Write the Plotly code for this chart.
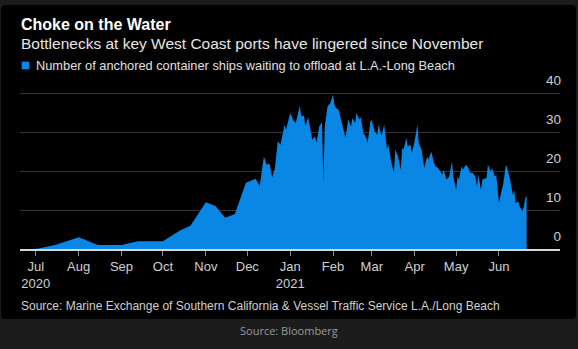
import plotly.graph_objects as go

# ---- data ----
dates = [
    "2020-07-01", "2020-07-15", "2020-08-01", "2020-08-15", "2020-09-01", "2020-09-13",
    "2020-10-01", "2020-10-13", "2020-10-21", "2020-11-01", "2020-11-08", "2020-11-15",
    "2020-11-22", "2020-11-30", "2020-12-07", "2020-12-09", "2020-12-10", "2020-12-13",
    "2020-12-15", "2020-12-17", "2020-12-19", "2020-12-21", "2020-12-23", "2020-12-25",
    "2020-12-28", "2020-12-29", "2021-01-01", "2021-01-03", "2021-01-05", "2021-01-08",
    "2021-01-09", "2021-01-11", "2021-01-12", "2021-01-14", "2021-01-16", "2021-01-17",
    "2021-01-19", "2021-01-20", "2021-01-22", "2021-01-24", "2021-01-25", "2021-01-26",
    "2021-01-28", "2021-01-30", "2021-02-01", "2021-02-02", "2021-02-03", "2021-02-05",
    "2021-02-08", "2021-02-09", "2021-02-10", "2021-02-12", "2021-02-14", "2021-02-15",
    "2021-02-17", "2021-02-18", "2021-02-20", "2021-02-21", "2021-02-23", "2021-02-25",
    "2021-02-26", "2021-02-28", "2021-03-01", "2021-03-03", "2021-03-05", "2021-03-06",
    "2021-03-08", "2021-03-10", "2021-03-12", "2021-03-13", "2021-03-15", "2021-03-17",
    "2021-03-18", "2021-03-20", "2021-03-22", "2021-03-23", "2021-03-24", "2021-03-26",
    "2021-03-27", "2021-03-29", "2021-03-30", "2021-04-01", "2021-04-03", "2021-04-04",
    "2021-04-06", "2021-04-08", "2021-04-10", "2021-04-11", "2021-04-13", "2021-04-15",
    "2021-04-16", "2021-04-18", "2021-04-19", "2021-04-21", "2021-04-22", "2021-04-24",
    "2021-04-26", "2021-04-28", "2021-04-29", "2021-05-01", "2021-05-02", "2021-05-03",
    "2021-05-05", "2021-05-06", "2021-05-08", "2021-05-10", "2021-05-11", "2021-05-13",
    "2021-05-15", "2021-05-16", "2021-05-17", "2021-05-19", "2021-05-20", "2021-05-23",
    "2021-05-24", "2021-05-26", "2021-05-27", "2021-05-29", "2021-05-30", "2021-06-01",
    "2021-06-03", "2021-06-04", "2021-06-06", "2021-06-07", "2021-06-09", "2021-06-11",
    "2021-06-12", "2021-06-13", "2021-06-15", "2021-06-16", "2021-06-18", "2021-06-19",
    "2021-06-20", "2021-06-21",
]
ships = [
    0, 1, 3, 1, 1, 2,
    2, 4.7, 6, 12, 11, 8,
    9, 17, 18, 17, 16.2, 23.7,
    21.6, 21.9, 18.4, 20.8, 27.6, 26.7,
    31.9, 30.6, 34.9, 33.2, 32.3, 36.7,
    34, 34.2, 31.4, 33.8, 29.7, 28,
    28.9, 27.2, 31.4, 32.5, 17.3, 31.4,
    36.6, 37.4, 39.6, 37, 36.2, 35.7,
    31.4, 30.2, 28.5, 33.2, 31.4, 33.6,
    32.3, 34.9, 33.2, 33.8, 29.7, 28.5,
    27.2, 32.7, 33, 30.2, 29.3, 31.9,
    28.9, 31.9, 25.5, 26.7, 22.5, 19.5,
    25.5, 23.7, 20.3, 25.9, 25.5, 28.5,
    26.3, 26.7, 24.6, 27.6, 31.9, 27.2,
    25.5, 20.8, 23.7, 22.9, 25, 22.1,
    21.2, 20.8, 20.3, 19.1, 20.3, 17.8,
    18.6, 22.5, 18.6, 15.2, 18.6, 17.8,
    21.2, 20.3, 21.6, 20.8, 19.6, 19.5,
    18.6, 16, 19.1, 15.2, 17.8, 18.2,
    21.6, 19.9, 20.8, 18.6, 19.1, 11.8,
    15.2, 16.5, 21.6, 20.8, 17.8, 13.9,
    15.2, 11.8, 12.2, 10.9, 9.6, 10.9,
    13.1, 13.5,
]
tick_dates = ["2020-07-01", "2020-08-01", "2020-09-01", "2020-10-01", "2020-11-01",
              "2020-12-01", "2021-01-01", "2021-02-01", "2021-03-01", "2021-04-01",
              "2021-05-01", "2021-06-01"]
tick_labels = ["Jul<br>2020", "Aug", "Sep", "Oct", "Nov", "Dec", "Jan<br>2021",
               "Feb", "Mar", "Apr", "May", "Jun"]
y_ticks = [0, 10, 20, 30, 40]

title = "Choke on the Water"
subtitle = "Bottlenecks at key West Coast ports have lingered since November"
legend_label = "Number of anchored container ships waiting to offload at L.A.-Long Beach"
source = "Source: Marine Exchange of Southern California &amp; Vessel Traffic Service L.A./Long Beach"
footer = "Source: Bloomberg"

# ---- layout geometry (pixels) ----
W, H = 578, 349
ML, MR, MT, MB = 20, 18, 70, 100
PW, PH = W - ML - MR, H - MT - MB
BLUE = "#0a86e4"
FONT = "Liberation Sans, Arial, sans-serif"


def px(x):
    return (x - ML) / PW


def py(y):
    return (H - MB - y) / PH


fig = go.Figure()
fig.add_trace(go.Scatter(
    x=dates, y=ships, mode="lines", fill="tozeroy",
    line=dict(width=0, color=BLUE), fillcolor=BLUE,
    hoverinfo="skip", showlegend=False,
))

# black rounded panel
x0, x1, y0, y1, r = 1, 576, 5, 319, 4
path = (f"M {px(x0 + r)} {py(y0)} L {px(x1 - r)} {py(y0)} Q {px(x1)} {py(y0)} {px(x1)} {py(y0 + r)} "
        f"L {px(x1)} {py(y1 - r)} Q {px(x1)} {py(y1)} {px(x1 - r)} {py(y1)} "
        f"L {px(x0 + r)} {py(y1)} Q {px(x0)} {py(y1)} {px(x0)} {py(y1 - r)} "
        f"L {px(x0)} {py(y0 + r)} Q {px(x0)} {py(y0)} {px(x0 + r)} {py(y0)} Z")
shapes = [
    dict(type="path", xref="paper", yref="paper", path=path,
         fillcolor="#000000", line=dict(width=0), layer="below"),
    dict(type="rect", xref="paper", yref="paper",
         x0=px(21.7), x1=px(29.3), y0=py(69.3), y1=py(61.7),
         fillcolor=BLUE, line=dict(width=0)),
]

annotations = [
    dict(text=f"<b>{title}</b>", x=px(18.5), y=py(24.5), xanchor="left", yanchor="middle",
         font=dict(size=16, color="#ffffff", family=FONT)),
    dict(text=subtitle, x=px(18.5), y=py(43), xanchor="left", yanchor="middle",
         font=dict(size=15.5, color="#e6e6e6", family=FONT)),
    dict(text=legend_label, x=px(33.5), y=py(65.4), xanchor="left", yanchor="middle",
         font=dict(size=12.8, color="#e0e0e0", family=FONT)),
    dict(text=source, x=px(18.5), y=py(306.3), xanchor="left", yanchor="middle",
         font=dict(size=12, color="#d0d0d0", family=FONT)),
    dict(text=footer, x=px(289), y=py(330), xanchor="center", yanchor="middle",
         font=dict(size=11, color="#9a9a9a", family="Open Sans, sans-serif")),
]
for a in annotations:
    a.update(xref="paper", yref="paper", showarrow=False)

fig.update_layout(
    width=W, height=H,
    margin=dict(l=ML, r=MR, t=MT, b=MB),
    paper_bgcolor="#1c1c1c", plot_bgcolor="rgba(0,0,0,0)",
    shapes=shapes, annotations=annotations,
    showlegend=False,
    xaxis=dict(
        type="date", range=["2020-06-19 15:00", "2021-07-15 03:00"],
        tickvals=tick_dates, ticktext=tick_labels,
        ticks="outside", ticklen=5, tickcolor="#8a8a8a", tickwidth=1,
        showline=True, linecolor="#d8d8d8", linewidth=1.5,
        showgrid=False, zeroline=False,
        tickfont=dict(size=13, color="#d0d0d0", family=FONT),
        fixedrange=True,
    ),
    yaxis=dict(
        range=[0, PH / 3.9], side="right", tickvals=y_ticks,
        ticklabelposition="inside top", ticks="",
        ticklabelstandoff=-4, ticklabelshift=-3,
        showgrid=True, gridcolor="#333333", gridwidth=1,
        zeroline=False, showline=False,
        tickfont=dict(size=13.5, color="#d0d0d0", family=FONT),
        fixedrange=True,
    ),
)

fig.write_html("out.html", config={"displayModeBar": False})
